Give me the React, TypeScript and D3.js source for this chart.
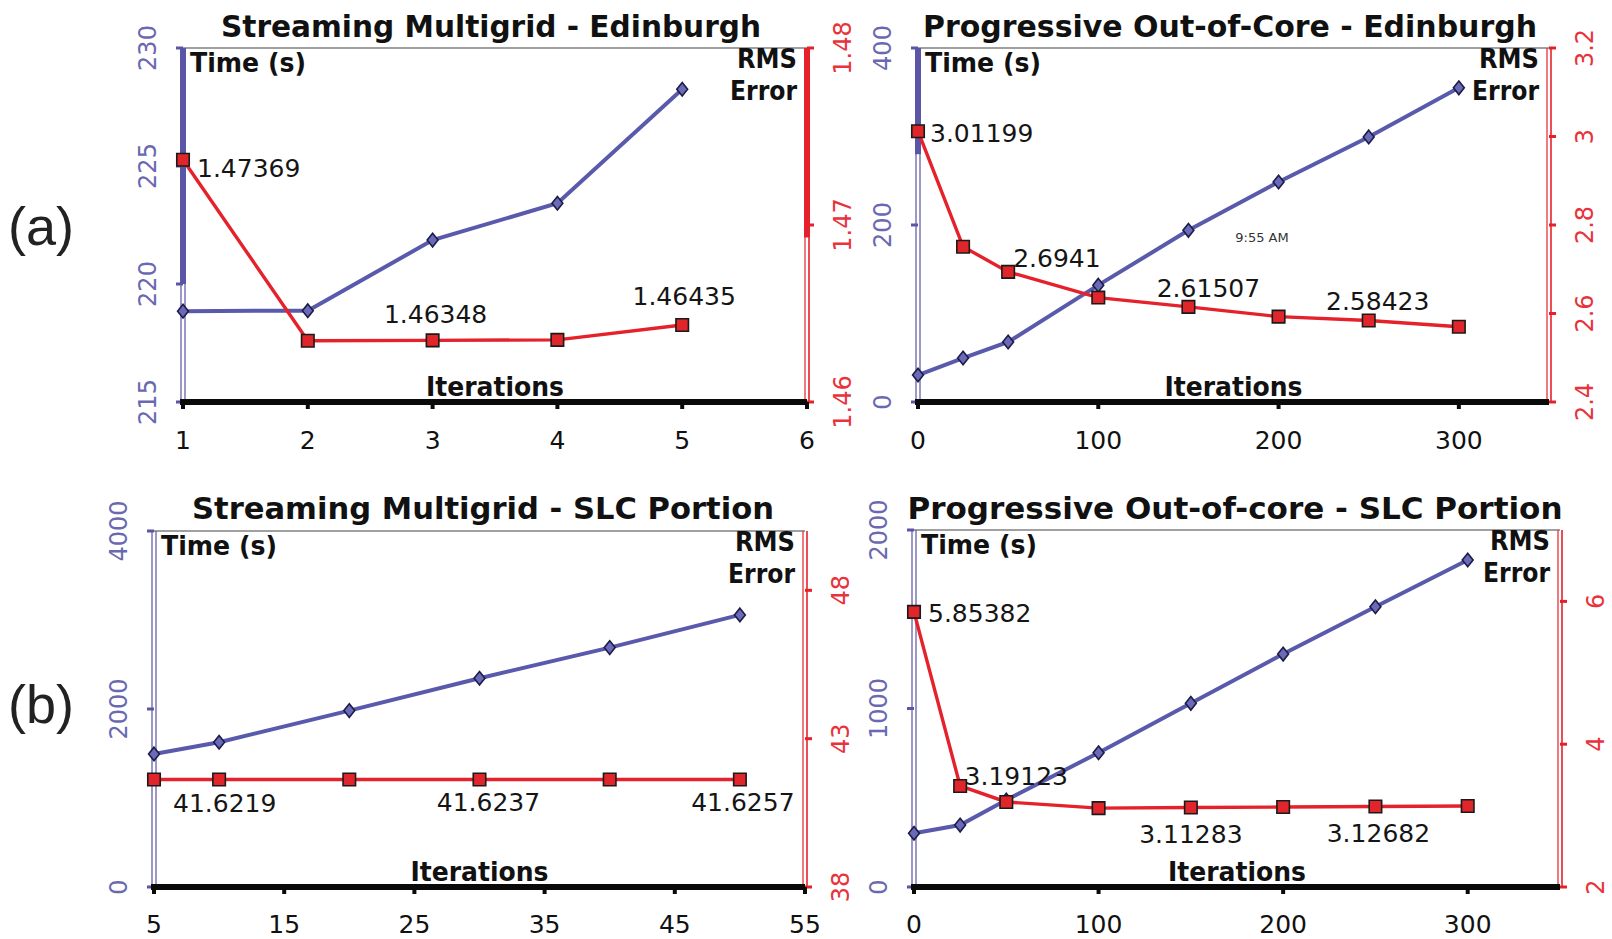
import React, { useEffect } from 'react';
import * as d3 from 'd3';

// ---- Streaming Multigrid - Edinburgh ----
const smEdIters = [1, 2, 3, 4, 5];
const smEdTime = [218.85, 218.87, 221.86, 223.42, 228.25];
const smEdRms = [1.47369, 1.46346, 1.46348, 1.46351, 1.46435];
const smEdXTicks = [1, 2, 3, 4, 5, 6];
const smEdTimeTicks = [215, 220, 225, 230];
const smEdRmsTicks = [1.46, 1.47, 1.48];

// ---- Progressive Out-of-Core - Edinburgh ----
const pocEdIters = [0, 25, 50, 100, 150, 200, 250, 300];
const pocEdTime = [30.5, 49.7, 67.8, 132, 194, 248.6, 299.5, 355];
const pocEdRms = [3.01199, 2.751, 2.6941, 2.636, 2.61507, 2.593, 2.58423, 2.57];
const pocEdXTicks = [0, 100, 200, 300];
const pocEdTimeTicks = [0, 200, 400];
const pocEdRmsTicks = [2.4, 2.6, 2.8, 3, 3.2];

// ---- Streaming Multigrid - SLC Portion ----
const smSlcIters = [5, 10, 20, 30, 40, 50];
const smSlcTime = [1495, 1626, 1982, 2346, 2690, 3057];
const smSlcRms = [41.6219, 41.6228, 41.6232, 41.6237, 41.6247, 41.6257];
const smSlcXTicks = [5, 15, 25, 35, 45, 55];
const smSlcTimeTicks = [0, 2000, 4000];
const smSlcRmsTicks = [38, 43, 48];

// ---- Progressive Out-of-core - SLC Portion ----
const pocSlcIters = [0, 25, 50, 100, 150, 200, 250, 300];
const pocSlcTime = [301, 347, 487, 752, 1029, 1305, 1570, 1832];
const pocSlcRms = [5.85382, 3.415, 3.19123, 3.105, 3.11283, 3.12, 3.12682, 3.135];
const pocSlcXTicks = [0, 100, 200, 300];
const pocSlcTimeTicks = [0, 1000, 2000];
const pocSlcRmsTicks = [2, 4, 6];

const BLUE = '#5a5aac';
const BLUE_AXIS = '#5a55a5';
const BLUE_TEXT = '#6a68b0';
const RED = '#e5222b';
const RED_TEXT = '#e8323c';
const FONT = '"DejaVu Sans", Verdana, sans-serif';

type LabelSpec = { i: number; dx: number; dy: number; anchor: 'start' | 'middle' | 'end' };

type PanelSpec = {
  title: string;
  titleX: number;
  titleY: number;
  titleW: number;
  left: number;
  right: number;
  top: number;
  bottom: number;
  xDomain: [number, number];
  timeDomain: [number, number];
  rmsDomain: [number, number];
  iters: number[];
  time: number[];
  rms: number[];
  xTicks: number[];
  timeTicks: number[];
  rmsTicks: number[];
  labels: LabelSpec[];
  leftThickTo?: number;
  rightThickTo?: number;
  xTickY: number;
};

const panels: PanelSpec[] = [
  {
    title: 'Streaming Multigrid - Edinburgh',
    titleX: 491, titleY: 37, titleW: 540,
    left: 183, right: 807, top: 48, bottom: 402,
    xDomain: [1, 6], timeDomain: [215, 230], rmsDomain: [1.46, 1.48],
    iters: smEdIters, time: smEdTime, rms: smEdRms,
    xTicks: smEdXTicks, timeTicks: smEdTimeTicks, rmsTicks: smEdRmsTicks,
    labels: [
      { i: 0, dx: 14, dy: 17, anchor: 'start' },
      { i: 2, dx: 3, dy: -17, anchor: 'middle' },
      { i: 4, dx: 2, dy: -20, anchor: 'middle' },
    ],
    leftThickTo: 220, rightThickTo: 1.4693, xTickY: 449,
  },
  {
    title: 'Progressive Out-of-Core - Edinburgh',
    titleX: 1230, titleY: 37, titleW: 614,
    left: 918, right: 1549, top: 48, bottom: 402,
    xDomain: [0, 350], timeDomain: [0, 400], rmsDomain: [2.4, 3.2],
    iters: pocEdIters, time: pocEdTime, rms: pocEdRms,
    xTicks: pocEdXTicks, timeTicks: pocEdTimeTicks, rmsTicks: pocEdRmsTicks,
    labels: [
      { i: 0, dx: 12, dy: 11, anchor: 'start' },
      { i: 2, dx: 5, dy: -5, anchor: 'start' },
      { i: 4, dx: 20, dy: -10, anchor: 'middle' },
      { i: 6, dx: 9, dy: -10, anchor: 'middle' },
    ],
    leftThickTo: 280, xTickY: 449,
  },
  {
    title: 'Streaming Multigrid - SLC Portion',
    titleX: 483, titleY: 519, titleW: 582,
    left: 154, right: 805, top: 531, bottom: 887,
    xDomain: [5, 55], timeDomain: [0, 4000], rmsDomain: [38, 50],
    iters: smSlcIters, time: smSlcTime, rms: smSlcRms,
    xTicks: smSlcXTicks, timeTicks: smSlcTimeTicks, rmsTicks: smSlcRmsTicks,
    labels: [
      { i: 0, dx: 19, dy: 32, anchor: 'start' },
      { i: 3, dx: 9, dy: 32, anchor: 'middle' },
      { i: 5, dx: 3, dy: 32, anchor: 'middle' },
    ],
    xTickY: 933,
  },
  {
    title: 'Progressive Out-of-core - SLC Portion',
    titleX: 1235, titleY: 519, titleW: 655,
    left: 914, right: 1560, top: 530, bottom: 887,
    xDomain: [0, 350], timeDomain: [0, 2000], rmsDomain: [2, 7],
    iters: pocSlcIters, time: pocSlcTime, rms: pocSlcRms,
    xTicks: pocSlcXTicks, timeTicks: pocSlcTimeTicks, rmsTicks: pocSlcRmsTicks,
    labels: [
      { i: 0, dx: 14, dy: 10, anchor: 'start' },
      { i: 2, dx: 10, dy: -17, anchor: 'middle' },
      { i: 4, dx: 0, dy: 35, anchor: 'middle' },
      { i: 6, dx: 3, dy: 35, anchor: 'middle' },
    ],
    xTickY: 933,
  },
];

// A slightly wider rhombus than d3's built-in diamond, for the time markers.
const wideDiamond: d3.SymbolType = {
  draw(context, size) {
    const h = Math.sqrt(size) * 0.62;
    const w = h * 0.8;
    context.moveTo(0, -h);
    context.lineTo(w, 0);
    context.lineTo(0, h);
    context.lineTo(-w, 0);
    context.closePath();
  },
};
const diamond = d3.symbol().type(wideDiamond).size(120)() as string;
const square = d3.symbol().type(d3.symbolSquare).size(156)() as string;

function ChartPanel({ p }: { p: PanelSpec }) {
  const x = d3.scaleLinear().domain(p.xDomain).range([p.left, p.right]);
  const yT = d3.scaleLinear().domain(p.timeDomain).range([p.bottom, p.top]);
  const yR = d3.scaleLinear().domain(p.rmsDomain).range([p.bottom, p.top]);

  const timeLine = d3
    .line<number>()
    .x((_, i) => x(p.iters[i]))
    .y((d) => yT(d));
  const rmsLine = d3
    .line<number>()
    .x((_, i) => x(p.iters[i]))
    .y((d) => yR(d));

  const leftThickY = p.leftThickTo !== undefined ? yT(p.leftThickTo) : null;
  const rightThickY = p.rightThickTo !== undefined ? yR(p.rightThickTo) : null;
  const cx = (p.left + p.right) / 2;

  return (
    <g>
      {/* title */}
      <text
        x={p.titleX}
        y={p.titleY}
        textAnchor="middle"
        fontFamily={FONT}
        fontWeight="bold"
        fontSize={30}
        textLength={p.titleW}
        lengthAdjust="spacingAndGlyphs"
        fill="#111"
      >
        {p.title}
      </text>

      {/* top frame line */}
      <line x1={p.left} x2={p.right} y1={p.top} y2={p.top} stroke="#808080" strokeWidth={1.5} />

      {/* left (time) axis */}
      <line x1={p.left - 2} x2={p.left - 2} y1={p.top} y2={p.bottom} stroke={BLUE_AXIS} strokeWidth={1.2} />
      <line x1={p.left + 2} x2={p.left + 2} y1={p.top} y2={p.bottom} stroke={BLUE_AXIS} strokeWidth={1.2} />
      {leftThickY !== null && (
        <line x1={p.left} x2={p.left} y1={p.top} y2={leftThickY} stroke={BLUE_AXIS} strokeWidth={6} />
      )}
      {p.timeTicks.map((t) => (
        <g key={'lt' + t}>
          <line x1={p.left - 7} x2={p.left} y1={yT(t)} y2={yT(t)} stroke={BLUE_AXIS} strokeWidth={3} />
          <text
            transform={`translate(${p.left - 36 + 9},${yT(t)}) rotate(-90)`}
            textAnchor="middle"
            fontFamily={FONT}
            fontSize={24}
            fill={BLUE_TEXT}
          >
            {String(t)}
          </text>
        </g>
      ))}

      {/* right (rms) axis */}
      <line x1={p.right - 2} x2={p.right - 2} y1={p.top} y2={p.bottom} stroke={RED} strokeWidth={1.2} />
      <line x1={p.right + 2} x2={p.right + 2} y1={p.top} y2={p.bottom} stroke={RED} strokeWidth={1.6} />
      {rightThickY !== null && (
        <line x1={p.right} x2={p.right} y1={p.top} y2={rightThickY} stroke={RED} strokeWidth={6} />
      )}
      {p.rmsTicks.map((t) => (
        <g key={'rt' + t}>
          <line x1={p.right} x2={p.right + 7} y1={yR(t)} y2={yR(t)} stroke={RED} strokeWidth={3} />
          <text
            transform={`translate(${p.right + 35 + 9},${yR(t)}) rotate(-90)`}
            textAnchor="middle"
            fontFamily={FONT}
            fontSize={24}
            fill={RED_TEXT}
          >
            {String(t)}
          </text>
        </g>
      ))}

      {/* x axis */}
      <line x1={p.left - 3} x2={p.right} y1={p.bottom} y2={p.bottom} stroke="#0a0a0a" strokeWidth={6} />
      {p.xTicks.map((t) => (
        <g key={'xt' + t}>
          <line x1={x(t)} x2={x(t)} y1={p.bottom} y2={p.bottom + 7} stroke="#0a0a0a" strokeWidth={4} />
          <text x={x(t)} y={p.xTickY} textAnchor="middle" fontFamily={FONT} fontSize={25} fill="#111">
            {String(t)}
          </text>
        </g>
      ))}

      {/* axis captions */}
      <text x={p.left + 7} y={p.top + 24} fontFamily={FONT} fontWeight="bold" fontSize={26}
        textLength={116} lengthAdjust="spacingAndGlyphs" fill="#111">
        Time (s)
      </text>
      <text x={p.right - 10} y={p.top + 20} textAnchor="end" fontFamily={FONT} fontWeight="bold" fontSize={26}
        textLength={60} lengthAdjust="spacingAndGlyphs" fill="#111">
        RMS
      </text>
      <text x={p.right - 10} y={p.top + 52} textAnchor="end" fontFamily={FONT} fontWeight="bold" fontSize={26}
        textLength={67} lengthAdjust="spacingAndGlyphs" fill="#111">
        Error
      </text>
      <text x={cx} y={p.bottom - 6} textAnchor="middle" fontFamily={FONT} fontWeight="bold" fontSize={27}
        textLength={138} lengthAdjust="spacingAndGlyphs" fill="#111">
        Iterations
      </text>

      {/* time series */}
      <path d={timeLine(p.time) ?? ''} fill="none" stroke={BLUE} strokeWidth={4} />
      {p.time.map((v, i) => (
        <path
          key={'tm' + i}
          d={diamond}
          transform={`translate(${x(p.iters[i])},${yT(v)})`}
          fill="#6a6ab8"
          stroke="#1c1c48"
          strokeWidth={1.6}
        />
      ))}

      {/* rms series */}
      <path d={rmsLine(p.rms) ?? ''} fill="none" stroke={RED} strokeWidth={3.4} />
      {p.rms.map((v, i) => (
        <path
          key={'rm' + i}
          d={square}
          transform={`translate(${x(p.iters[i])},${yR(v)})`}
          fill="#e0262b"
          stroke="#1a1a1a"
          strokeWidth={1.6}
        />
      ))}

      {/* value labels */}
      {p.labels.map((l) => (
        <text
          key={'lb' + l.i}
          x={x(p.iters[l.i]) + l.dx}
          y={yR(p.rms[l.i]) + l.dy}
          textAnchor={l.anchor}
          fontFamily={FONT}
          fontSize={25}
          fill="#151515"
        >
          {String(p.rms[l.i])}
        </text>
      ))}
    </g>
  );
}

export default function App() {
  useEffect(() => {
    document.body.style.margin = '0';
  }, []);
  return (
    <svg
      width={1612}
      height={939}
      viewBox="0 0 1612 939"
      style={{ display: 'block', background: '#fff' }}
    >
      <rect x={0} y={0} width={1612} height={939} fill="#fff" />
      {panels.map((p) => (
        <ChartPanel key={p.title} p={p} />
      ))}
      <text x={1262} y={242} textAnchor="middle" fontFamily={FONT} fontSize={13} fill="#333">
        9:55 AM
      </text>
      <text x={41} y={245} textAnchor="middle" fontFamily='"Liberation Sans", Arial, sans-serif' fontSize={54} fill="#222">
        (a)
      </text>
      <text x={41} y={723} textAnchor="middle" fontFamily='"Liberation Sans", Arial, sans-serif' fontSize={54} fill="#222">
        (b)
      </text>
    </svg>
  );
}
